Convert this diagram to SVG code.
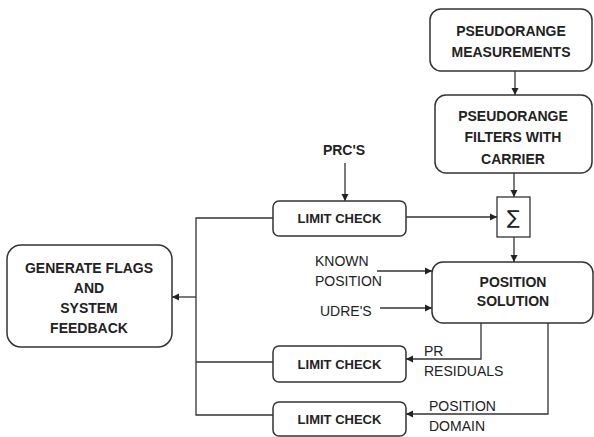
<svg xmlns="http://www.w3.org/2000/svg" width="594" height="437" viewBox="0 0 594 437">
<style>
.box{fill:#fff;stroke:#333;stroke-width:1.5}
.ln{fill:none;stroke:#333;stroke-width:1.3}
.t{font-family:"Liberation Sans",Arial,sans-serif;font-weight:bold;font-size:14px;fill:#222;text-anchor:middle}
.s{font-family:"Liberation Sans",Arial,sans-serif;font-weight:bold;font-size:13px;fill:#222;text-anchor:middle}
.l{font-family:"Liberation Sans",Arial,sans-serif;font-size:14px;fill:#222}
</style>
<defs>
<marker id="ah" markerWidth="8" markerHeight="8" refX="7" refY="4" orient="auto" markerUnits="userSpaceOnUse">
<path d="M0,0.5 L7,4 L0,7.5 Z" fill="#222"/>
</marker>
</defs>
<g id="connectors">
<path class="ln" d="M515,71 V95" marker-end="url(#ah)"/>
<path class="ln" d="M514,173 V197" marker-end="url(#ah)"/>
<path class="ln" d="M514,237 V262" marker-end="url(#ah)"/>
<path class="ln" d="M345,163 V201" marker-end="url(#ah)"/>
<path class="ln" d="M406,217 H497" marker-end="url(#ah)"/>
<path class="ln" d="M377,271 H432" marker-end="url(#ah)"/>
<path class="ln" d="M380,308 H432" marker-end="url(#ah)"/>
<path class="ln" d="M481,323 V359 H406" marker-end="url(#ah)"/>
<path class="ln" d="M548,323 V414 H406" marker-end="url(#ah)"/>
<path class="ln" d="M273,218 H196 V415 H273"/>
<path class="ln" d="M196,362 H273"/>
<path class="ln" d="M196,297 H172" marker-end="url(#ah)"/>
</g>
<g id="pr-meas">
<rect class="box" x="430" y="9" width="162" height="62" rx="11"/>
<text class="t" x="511" y="36">PSEUDORANGE</text>
<text class="t" x="511" y="57">MEASUREMENTS</text>
</g>
<g id="pr-filters">
<rect class="box" x="435" y="95" width="157" height="78" rx="11"/>
<text class="t" x="513" y="121">PSEUDORANGE</text>
<text class="t" x="513" y="142">FILTERS WITH</text>
<text class="t" x="513" y="164">CARRIER</text>
</g>
<g id="sum">
<rect x="497" y="197" width="33" height="40" fill="#fff" stroke="#333" stroke-width="1.3"/>
<text x="513.5" y="224" font-family="'DejaVu Sans',sans-serif" font-size="19" fill="#222" text-anchor="middle">∑</text>
</g>
<g id="prcs">
<text class="t" x="344" y="155">PRC'S</text>
</g>
<g id="limit1">
<rect class="box" x="273" y="201" width="133" height="35" rx="6"/>
<text class="s" x="339.5" y="223">LIMIT CHECK</text>
</g>
<g id="pos-sol">
<rect class="box" x="432" y="262" width="161" height="61" rx="11"/>
<text class="t" x="513" y="287">POSITION</text>
<text class="t" x="513" y="306">SOLUTION</text>
</g>
<g id="known">
<text class="l" x="315" y="266">KNOWN</text>
<text class="l" x="315" y="286">POSITION</text>
</g>
<g id="udres">
<text class="l" x="320" y="316">UDRE'S</text>
</g>
<g id="flags">
<rect class="box" x="7" y="245" width="165" height="102" rx="14"/>
<text class="t" x="89" y="272.5">GENERATE FLAGS</text>
<text class="t" x="89" y="293">AND</text>
<text class="t" x="89" y="313">SYSTEM</text>
<text class="t" x="89" y="332.5">FEEDBACK</text>
</g>
<g id="limit2">
<rect class="box" x="273" y="346" width="133" height="36" rx="6"/>
<text class="s" x="339.5" y="369">LIMIT CHECK</text>
</g>
<g id="limit3">
<rect class="box" x="273" y="402" width="133" height="34" rx="6"/>
<text class="s" x="339.5" y="424">LIMIT CHECK</text>
</g>
<g id="pr-res">
<text class="l" x="424" y="356">PR</text>
<text class="l" x="424" y="376">RESIDUALS</text>
</g>
<g id="pos-dom">
<text class="l" x="429" y="411">POSITION</text>
<text class="l" x="429" y="431">DOMAIN</text>
</g>
</svg>
